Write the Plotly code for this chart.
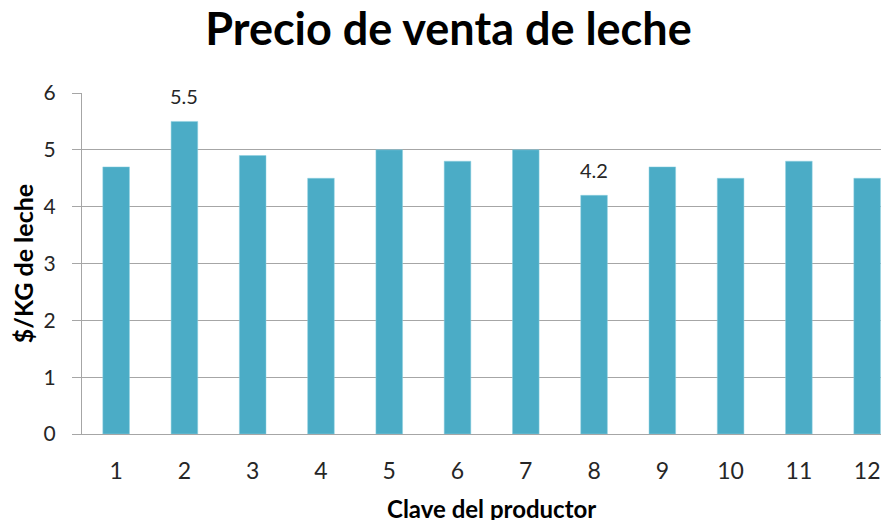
import plotly.graph_objects as go

productores = ["1", "2", "3", "4", "5", "6", "7", "8", "9", "10", "11", "12"]
precios = [4.7, 5.5, 4.9, 4.5, 5.0, 4.8, 5.0, 4.2, 4.7, 4.5, 4.8, 4.5]
etiquetas = {"2": 5.5, "8": 4.2}  # only these bars carry a data label

FONT = "Lato, 'Open Sans', sans-serif"
BAR_COLOUR = "#4BACC6"
GRID_COLOUR = "#A6A6A6"

fig = go.Figure()
fig.add_trace(
    go.Bar(
        x=productores,
        y=precios,
        width=0.39,
        marker=dict(color=BAR_COLOUR, line=dict(color="#8FD0E0", width=0.5)),
        showlegend=False,
    )
)

# category axis: annotations need the category position, not the "2" string
for clave, valor in etiquetas.items():
    fig.add_annotation(
        x=productores.index(clave),
        y=valor,
        text=f"{valor:.1f}",
        showarrow=False,
        yshift=25,
        font=dict(family=FONT, size=20, color="#262626"),
    )

fig.add_annotation(
    text="<b>Clave del productor</b>",
    xref="paper",
    yref="paper",
    x=0.507,
    y=0,
    yshift=-74,
    yanchor="middle",
    showarrow=False,
    font=dict(family=FONT, size=24, color="#000000"),
)

# the page body adds an 8px offset, margins below account for it
fig.update_layout(
    width=889,
    height=520,
    margin=dict(l=74, r=8, t=85, b=94),
    paper_bgcolor="white",
    plot_bgcolor="white",
    title=dict(
        text="<b>Precio de venta de leche</b>",
        x=0.4955,
        xref="container",
        y=0.959,
        yanchor="middle",
        font=dict(family=FONT, size=45, color="#000000"),
    ),
    xaxis=dict(
        type="category",
        range=[-0.5, 11.32],
        automargin=False,
        showgrid=False,
        showline=True,
        linecolor=GRID_COLOUR,
        linewidth=1,
        ticks="",
        ticklabelstandoff=16,
        tickfont=dict(family=FONT, size=23, color="#262626"),
    ),
    yaxis=dict(
        range=[0, 6],
        dtick=1,
        automargin=False,
        showgrid=True,
        gridcolor=GRID_COLOUR,
        gridwidth=1,
        showline=True,
        linecolor=GRID_COLOUR,
        linewidth=1,
        ticks="outside",
        ticklen=9,
        tickcolor=GRID_COLOUR,
        zeroline=False,
        ticklabelstandoff=12,
        tickfont=dict(family=FONT, size=21, color="#262626"),
        title=dict(
            text="<b>$/KG de leche</b>",
            standoff=5,
            font=dict(family=FONT, size=25, color="#000000"),
        ),
    ),
)

fig.write_html("out.html")
